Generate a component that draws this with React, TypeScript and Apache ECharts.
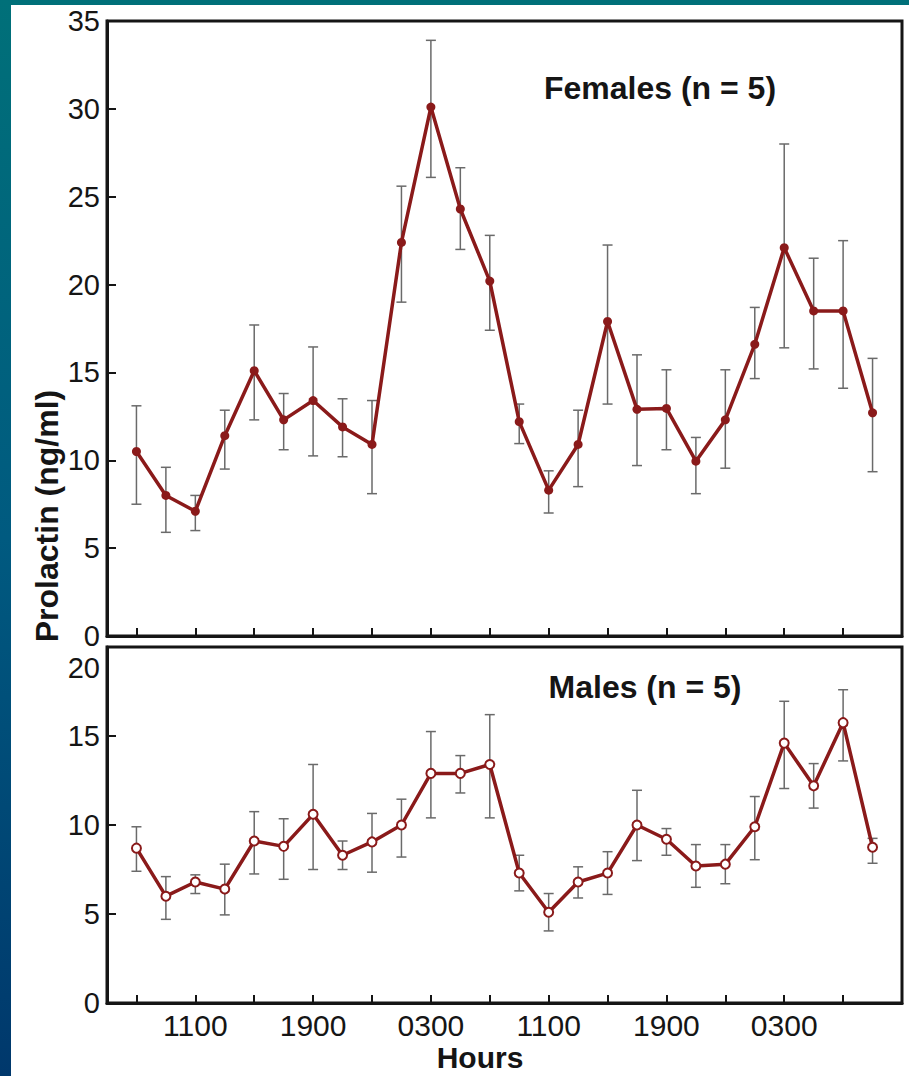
import React, { useEffect, useRef } from 'react';
import * as echarts from 'echarts';

// Clock time of each 2-hourly sample (index = x position)
const pointHours = ['0700', '0900', '1100', '1300', '1500', '1700', '1900', '2100', '2300', '0100', '0300', '0500', '0700',
  '0900', '1100', '1300', '1500', '1700', '1900', '2100', '2300', '0100', '0300', '0500', '0700', '0900'];
const tickPositions = [0, 2, 4, 6, 8, 10, 12, 14, 16, 18, 20, 22, 24];
const labelPositions = [2, 6, 10, 14, 18, 22];

const femaleMean = [10.5, 8.0, 7.1, 11.4, 15.1, 12.3, 13.4, 11.9, 10.9, 22.4, 30.1, 24.3, 20.2, 12.2, 8.3, 10.9, 17.9, 12.9, 12.95, 9.95, 12.3, 16.6, 22.1, 18.5, 18.5, 12.7];
const femaleUpper = [13.1, 9.6, 8.0, 12.85, 17.7, 13.8, 16.45, 13.5, 13.4, 25.6, 33.9, 26.65, 22.8, 13.2, 9.4, 12.85, 22.25, 16.0, 15.15, 11.3, 15.15, 18.7, 28.0, 21.5, 22.5, 15.8];
const femaleLower = [7.5, 5.9, 6.0, 9.5, 12.3, 10.6, 10.25, 10.2, 8.1, 19.0, 26.1, 22.0, 17.4, 10.95, 7.0, 8.5, 13.2, 9.7, 10.6, 8.1, 9.55, 14.65, 16.4, 15.2, 14.1, 9.35];

const maleMean = [8.7, 6.0, 6.8, 6.4, 9.1, 8.8, 10.6, 8.3, 9.05, 10.0, 12.9, 12.9, 13.4, 7.3, 5.1, 6.8, 7.3, 10.0, 9.2, 7.7, 7.8, 9.9, 14.6, 12.2, 15.75, 8.75];
const maleUpper = [9.9, 7.1, 7.2, 7.8, 10.75, 10.35, 13.4, 9.1, 10.65, 11.45, 15.25, 13.9, 16.2, 8.3, 6.15, 7.65, 8.5, 11.95, 9.8, 8.9, 8.9, 11.6, 16.95, 13.45, 17.6, 9.25];
const maleLower = [7.4, 4.7, 6.15, 4.95, 7.25, 6.95, 7.5, 7.5, 7.35, 8.2, 10.4, 11.8, 10.4, 6.3, 4.05, 5.9, 6.1, 8.0, 8.3, 6.5, 6.7, 8.05, 12.05, 10.95, 13.6, 7.85];

const FONT = '"Liberation Sans", Arial, Helvetica, sans-serif';
const DARK_RED = '#8a1a1a';
const INK = '#151515';

function errorBarSeries(lower: number[], upper: number[], axisIndex: number) {
  return {
    type: 'custom',
    xAxisIndex: axisIndex,
    yAxisIndex: axisIndex,
    z: 1,
    silent: true,
    data: lower.map((lo, i) => [i, lo, upper[i]]),
    encode: { x: 0, y: [1, 2] },
    renderItem: (params: any, api: any) => {
      const x = api.value(0);
      const top = api.coord([x, api.value(2)]);
      const bot = api.coord([x, api.value(1)]);
      const hw = 5;
      const style = { stroke: '#6a6a6a', lineWidth: 1.5 };
      return {
        type: 'group',
        children: [
          { type: 'line', shape: { x1: top[0], y1: top[1], x2: bot[0], y2: bot[1] }, style },
          { type: 'line', shape: { x1: top[0] - hw, y1: top[1], x2: top[0] + hw, y2: top[1] }, style },
          { type: 'line', shape: { x1: bot[0] - hw, y1: bot[1], x2: bot[0] + hw, y2: bot[1] }, style },
        ],
      };
    },
  };
}

function xAxis(gridIndex: number, showLabels: boolean) {
  return {
    type: 'value',
    gridIndex,
    min: -1,
    max: 26,
    axisLine: { show: true, onZero: false, lineStyle: { color: INK, width: 3 } },
    axisTick: { show: true, inside: true, length: 8, customValues: tickPositions, lineStyle: { color: INK, width: 2 } },
    axisLabel: {
      show: showLabels,
      customValues: labelPositions,
      formatter: (v: number) => pointHours[v],
      fontSize: 30,
      fontFamily: FONT,
      color: INK,
      margin: 7,
    },
    splitLine: { show: false },
  };
}

function yAxis(gridIndex: number, max: number, showMax: boolean) {
  return {
    type: 'value',
    gridIndex,
    min: 0,
    max,
    interval: 5,
    axisLine: { show: true, onZero: false, lineStyle: { color: INK, width: 3 } },
    axisTick: { show: true, inside: true, length: 9, lineStyle: { color: INK, width: 2 } },
    axisLabel: {
      fontSize: 29,
      fontFamily: FONT,
      color: INK,
      margin: 7,
      showMaxLabel: showMax,
    },
    splitLine: { show: false },
  };
}

export default function App() {
  const ref = useRef<HTMLDivElement>(null);

  useEffect(() => {
    document.body.style.margin = '0';
    if (!ref.current) return;
    const chart = echarts.init(ref.current, undefined, { renderer: 'svg' });
    const option: any = {
      animation: false,
      backgroundColor: 'transparent',
      grid: [
        { left: 107, top: 21, width: 795, height: 615, show: true, backgroundColor: '#fff', borderColor: INK, borderWidth: 3 },
        { left: 107, top: 647, width: 795, height: 356, show: true, backgroundColor: '#fff', borderColor: INK, borderWidth: 3 },
      ],
      xAxis: [xAxis(0, false), xAxis(1, true)],
      yAxis: [yAxis(0, 35, true), yAxis(1, 20, false)],
      series: [
        errorBarSeries(femaleLower, femaleUpper, 0),
        {
          type: 'line',
          xAxisIndex: 0,
          yAxisIndex: 0,
          z: 3,
          data: femaleMean.map((v, i) => [i, v]),
          symbol: 'circle',
          symbolSize: 9,
          showAllSymbol: true,
          lineStyle: { color: DARK_RED, width: 3.5 },
          itemStyle: { color: DARK_RED },
        },
        errorBarSeries(maleLower, maleUpper, 1),
        {
          type: 'line',
          xAxisIndex: 1,
          yAxisIndex: 1,
          z: 3,
          data: maleMean.map((v, i) => [i, v]),
          symbol: 'circle',
          symbolSize: 9,
          showAllSymbol: true,
          lineStyle: { color: DARK_RED, width: 3.5 },
          itemStyle: { color: '#fff', borderColor: DARK_RED, borderWidth: 2 },
        },
      ],
      graphic: [
        // top tick label of the lower panel sits a little below its tick in the original
        { type: 'text', x: 100, y: 668, z: 10, style: { text: '20', font: '29px ' + FONT, fill: INK, textAlign: 'right', textVerticalAlign: 'middle' } },
        { type: 'text', x: 660, y: 88, z: 10, style: { text: 'Females (n = 5)', font: 'bold 32px ' + FONT, fill: INK, textAlign: 'center', textVerticalAlign: 'middle' } },
        { type: 'text', x: 645, y: 687, z: 10, style: { text: 'Males (n = 5)', font: 'bold 32px ' + FONT, fill: INK, textAlign: 'center', textVerticalAlign: 'middle' } },
        { type: 'text', x: 480, y: 1057, z: 10, style: { text: 'Hours', font: 'bold 30px ' + FONT, fill: INK, textAlign: 'center', textVerticalAlign: 'middle' } },
        { type: 'text', x: 47, y: 516, rotation: Math.PI / 2, z: 10, style: { text: 'Prolactin (ng/ml)', font: 'bold 32px ' + FONT, fill: INK, textAlign: 'center', textVerticalAlign: 'middle' } },
      ],
    };
    chart.setOption(option);
    return () => chart.dispose();
  }, []);

  return (
    <div style={{ position: 'absolute', left: 0, top: 0, width: 909, height: 1076, background: 'linear-gradient(to bottom, #007079, #005a80 50%, #00386c)', overflow: 'hidden' }}>
      <div style={{ position: 'absolute', left: 11, top: 5, right: 0, bottom: 0, background: '#fff' }} />
      <div ref={ref} style={{ position: 'absolute', left: 0, top: 0, width: 909, height: 1076 }} />
    </div>
  );
}
